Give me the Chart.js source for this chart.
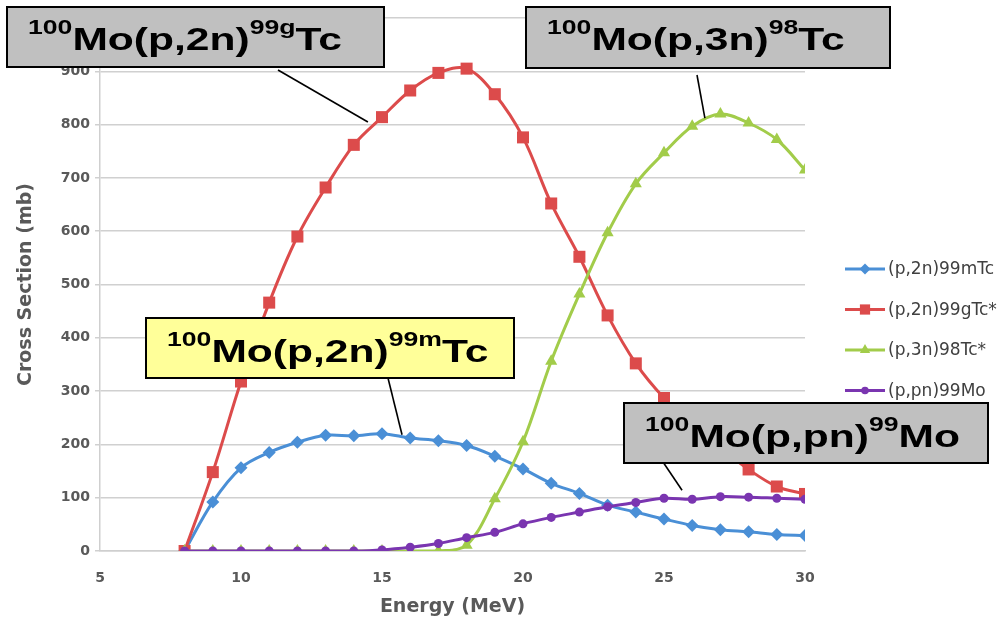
<!DOCTYPE html>
<html>
<head>
<meta charset="utf-8">
<script src="https://cdn.jsdelivr.net/npm/chart.js@4.4.1/dist/chart.umd.min.js"></script>
<style>
  html, body { margin: 0; padding: 0; background: #fff; }
  #wrap { width: 1008px; height: 625px; }
</style>
</head>
<body>
<div id="wrap"><canvas id="xsChart" width="1008" height="625"></canvas></div>
<script>
// proton energy (MeV)
const energy = [8, 9, 10, 11, 12, 13, 14, 15, 16, 17, 18, 19, 20, 21, 22, 23, 24, 25, 26, 27, 28, 29, 30];

const seriesLabels = ['(p,2n)99mTc', '(p,2n)99gTc*', '(p,3n)98Tc*', '(p,pn)99Mo'];

// cross sections (mb)
const tc99m = [0, 92, 156, 185, 204, 217, 216, 220, 212, 207, 198, 178, 154, 127, 108, 86, 73, 60, 48, 40, 36, 31, 29];
const tc99g = [0, 148, 318, 466, 590, 682, 762, 814, 864, 897, 905, 857, 776, 652, 552, 442, 352, 287, 238, 194, 153, 121, 107];
const tc98  = [0, 0, 0, 0, 0, 0, 0, 0, 0, 0, 11, 98, 205, 356, 482, 597, 689, 747, 797, 820, 803, 772, 715];
const mo99  = [0, 0, 0, 0, 0, 0, 0, 2, 7, 14, 25, 35, 51, 63, 73, 83, 91, 99, 97, 102, 101, 99, 97];

const xTicks = [5, 10, 15, 20, 25, 30];
const yTicks = [0, 100, 200, 300, 400, 500, 600, 700, 800, 900, 1000];

const colors = ['#4a8fd6', '#dc4b4b', '#a2cc4a', '#7a35b0'];
const markers = ['rectRot', 'rect', 'triangle', 'circle'];
const markerSize = [6.5, 8.5, 7, 4.5];

// callout boxes: [text, superscript?] pieces, box, text origin, leader line start (px) and end (data)
const callouts = [
  { parts: [['100', 1], ['Mo(p,2n)', 0], ['99g', 1], ['Tc', 0]], box: [7, 7, 384, 67], fill: '#c0c0c0', text: [28, 50], from: [278, 70], to: [14.5, 805] },
  { parts: [['100', 1], ['Mo(p,3n)', 0], ['98', 1], ['Tc', 0]], box: [526, 7, 890, 68], fill: '#c0c0c0', text: [547, 50], from: [697, 75], to: [26.45, 812] },
  { parts: [['100', 1], ['Mo(p,2n)', 0], ['99m', 1], ['Tc', 0]], box: [146, 318, 514, 378], fill: '#ffff99', text: [167, 362], from: [388, 378], to: [15.71, 218] },
  { parts: [['100', 1], ['Mo(p,pn)', 0], ['99', 1], ['Mo', 0]], box: [624, 403, 988, 463], fill: '#c0c0c0', text: [645, 447], from: [663, 462], to: [25.64, 114] }
];

function makeSet(label, values, i, order) {
  return {
    label: label,
    data: energy.map((e, k) => ({ x: e, y: values[k] })),
    borderColor: colors[i],
    backgroundColor: colors[i],
    borderWidth: 3,
    pointStyle: markers[i],
    pointRadius: markerSize[i],
    pointBorderWidth: 0,
    tension: 0.35,
    order: order
  };
}

// legend drawn by hand (line + marker like the original)
const sideLegend = {
  id: 'sideLegend',
  afterDatasetsDraw(chart) {
    const ctx = chart.ctx;
    const x0 = 845, lineW = 40, y0 = 269, step = 40.5;
    seriesLabels.forEach((lab, i) => {
      const y = y0 + i * step;
      ctx.save();
      ctx.strokeStyle = colors[i];
      ctx.fillStyle = colors[i];
      ctx.lineWidth = 3;
      ctx.beginPath();
      ctx.moveTo(x0, y);
      ctx.lineTo(x0 + lineW, y);
      ctx.stroke();
      Chart.helpers.drawPoint(ctx, { pointStyle: markers[i], radius: markerSize[i] * 0.85, borderWidth: 0, rotation: 0 }, x0 + lineW / 2, y);
      ctx.fillStyle = '#404040';
      ctx.font = '17px "DejaVu Sans"';
      ctx.textBaseline = 'middle';
      ctx.fillText(lab, x0 + lineW + 3, y + 1);
      ctx.restore();
    });
  }
};

const calloutPlugin = {
  id: 'callouts',
  afterDraw(chart) {
    const ctx = chart.ctx;
    const xs = chart.scales.x, ys = chart.scales.y;
    callouts.forEach(c => {
      ctx.save();
      // leader line
      ctx.strokeStyle = '#000';
      ctx.lineWidth = 1.6;
      ctx.beginPath();
      ctx.moveTo(c.from[0], c.from[1]);
      ctx.lineTo(xs.getPixelForValue(c.to[0]), ys.getPixelForValue(c.to[1]));
      ctx.stroke();
      // box
      const [x1, y1, x2, y2] = c.box;
      ctx.fillStyle = c.fill;
      ctx.fillRect(x1, y1, x2 - x1, y2 - y1);
      ctx.lineWidth = 2;
      ctx.strokeRect(x1, y1, x2 - x1, y2 - y1);
      // text, stretched sideways like the source picture
      ctx.translate(c.text[0], c.text[1]);
      ctx.scale(1.33, 1);
      ctx.fillStyle = '#000';
      ctx.textBaseline = 'alphabetic';
      let cx = 0;
      c.parts.forEach(([t, sup]) => {
        ctx.font = sup ? 'bold 20px "Liberation Sans"' : 'bold 32px "Liberation Sans"';
        ctx.fillText(t, cx, sup ? -16 : 0);
        cx += ctx.measureText(t).width;
      });
      ctx.restore();
    });
  }
};

const ctx = document.getElementById('xsChart').getContext('2d');
new Chart(ctx, {
  type: 'line',
  data: {
    datasets: [
      makeSet(seriesLabels[0], tc99m, 0, 3),
      makeSet(seriesLabels[1], tc99g, 1, 2),
      makeSet(seriesLabels[2], tc98, 2, 1),
      makeSet(seriesLabels[3], mo99, 3, 0)
    ]
  },
  options: {
    responsive: false,
    animation: false,
    devicePixelRatio: 1,
    layout: { padding: { top: 18, right: 203, left: 0, bottom: 0 } },
    plugins: {
      legend: { display: false },
      tooltip: { enabled: false }
    },
    scales: {
      x: {
        type: 'linear',
        min: xTicks[0],
        max: xTicks[xTicks.length - 1],
        afterBuildTicks: s => { s.ticks = xTicks.map(v => ({ value: v })); },
        afterFit: s => { s.height = 74; },
        grid: { display: false, drawTicks: false },
        border: { display: true, color: '#cfcfcf', width: 1.5 },
        ticks: { color: '#595959', font: { family: 'DejaVu Sans', size: 14, weight: 'bold' }, padding: 19, maxRotation: 0 },
        title: { display: true, text: 'Energy (MeV)', color: '#595959', font: { family: 'DejaVu Sans', size: 19, weight: 'bold' }, padding: { top: 0, bottom: 7 } }
      },
      y: {
        min: yTicks[0],
        max: yTicks[yTicks.length - 1],
        afterBuildTicks: s => { s.ticks = yTicks.map(v => ({ value: v })); },
        afterFit: s => { s.width = 100; },
        grid: { color: '#d0d0d0', lineWidth: 1.5, tickLength: 5 },
        border: { display: true, color: '#cfcfcf', width: 1.5 },
        ticks: { color: '#595959', font: { family: 'DejaVu Sans', size: 14, weight: 'bold' }, padding: 5 },
        title: { display: true, text: 'Cross Section (mb)', color: '#595959', font: { family: 'DejaVu Sans', size: 19, weight: 'bold' }, padding: { top: 15, bottom: 0 } }
      }
    }
  },
  plugins: [sideLegend, calloutPlugin]
});
</script>
</body>
</html>
